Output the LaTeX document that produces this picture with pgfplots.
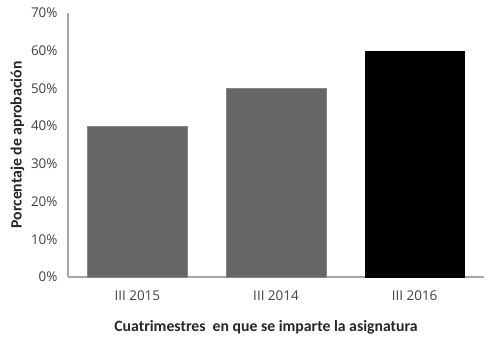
\documentclass[border=0pt]{standalone}
\usepackage{fontspec}
\setmainfont{Open Sans}
\newfontfamily\calibri{Carlito}
\usepackage{pgfplots}
\pgfplotsset{compat=1.18}
\definecolor{bargray}{HTML}{666666}
\definecolor{axgray}{HTML}{A6A6A6}
\definecolor{txt}{HTML}{404040}
\begin{document}
\begin{tikzpicture}
\begin{axis}[
  at={(0,0)}, anchor=south west,
  scale only axis, width=416bp, height=264bp,
  ymin=0, ymax=70, xmin=-0.5, xmax=2.5,
  ybar, bar width=0.72,
  axis x line*=bottom, axis y line*=left,
  axis line style={axgray, line width=1.2pt},
  xtick={0,1,2}, xticklabels={III 2015, III 2014, III 2016},
  ytick={0,10,...,70},
  yticklabel={\pgfmathprintnumber{\tick}\%},
  /pgf/number format/assume math mode=true,
  major tick length=0pt,
  tick label style={font=\fontsize{13.5}{15}\selectfont, text=txt},
  xticklabel style={yshift=-10bp},
  yticklabel style={xshift=-7bp},
  xlabel={\calibri\bfseries Cuatrimestres\ \ en que se imparte la asignatura},
  ylabel={\calibri\bfseries Porcentaje de aprobación},
  label style={font=\fontsize{15.8}{18}\selectfont, text=black!85},
  xlabel style={yshift=-13bp, xshift=-10bp},
  ylabel style={yshift=0bp},
]
\addplot[fill=bargray, draw=bargray!80!white, bar shift=0pt] coordinates {(0,40) (1,50)};
\addplot[fill=black, draw=black, bar shift=0pt] coordinates {(2,60)};
\end{axis}
\pgfresetboundingbox
\useasboundingbox (-68bp,-68bp) rectangle (420bp,277bp);
\end{tikzpicture}
\end{document}
